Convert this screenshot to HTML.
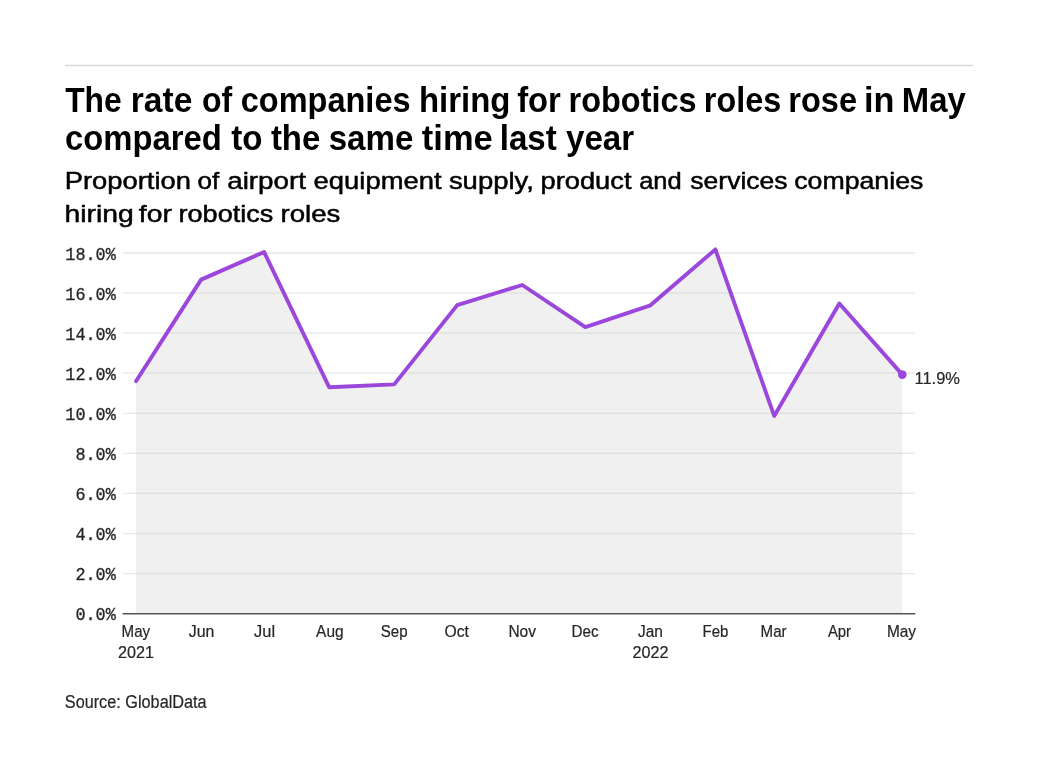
<!DOCTYPE html>
<html lang="en">
<head>
<meta charset="utf-8">
<title>The rate of companies hiring for robotics roles rose in May compared to the same time last year</title>
<style>
html,body{margin:0;padding:0;background:#ffffff;}
body{width:1038px;height:778px;overflow:hidden;}
svg{display:block;will-change:transform;}
.sans{font-family:"Liberation Sans",sans-serif;}
.mono{font-family:"Liberation Mono",monospace;}
.title{font-weight:700;font-size:34.5px;fill:#000000;}
.sub{font-weight:400;font-size:24.5px;fill:#000000;stroke:#000000;stroke-width:0.5px;}
.ytick{font-size:18.4px;fill:#262626;stroke:#262626;stroke-width:0.3px;}
.xtick{font-size:16.3px;fill:#262626;stroke:#262626;stroke-width:0.2px;}
.endlabel{font-size:17px;fill:#262626;stroke:#262626;stroke-width:0.2px;}
.source{font-size:18px;fill:#262626;stroke:#262626;stroke-width:0.2px;}
</style>
</head>
<body>
<svg width="1038" height="778" viewBox="0 0 1038 778">
<rect x="0" y="0" width="1038" height="778" fill="#ffffff"/>
<line x1="65" x2="973.2" y1="65.5" y2="65.5" stroke="#d9d9d9" stroke-width="1.3"/>
<text class="sans title" y="111.8">
<tspan x="65.13" textLength="56.51" lengthAdjust="spacingAndGlyphs">The</tspan>
<tspan x="130.84" textLength="61.45" lengthAdjust="spacingAndGlyphs">rate</tspan>
<tspan x="202.01" textLength="30.31" lengthAdjust="spacingAndGlyphs">of</tspan>
<tspan x="240.70" textLength="169.88" lengthAdjust="spacingAndGlyphs">companies</tspan>
<tspan x="418.89" textLength="91.56" lengthAdjust="spacingAndGlyphs">hiring</tspan>
<tspan x="517.13" textLength="43.74" lengthAdjust="spacingAndGlyphs">for</tspan>
<tspan x="568.51" textLength="128.14" lengthAdjust="spacingAndGlyphs">robotics</tspan>
<tspan x="703.82" textLength="77.32" lengthAdjust="spacingAndGlyphs">roles</tspan>
<tspan x="788.31" textLength="68.70" lengthAdjust="spacingAndGlyphs">rose</tspan>
<tspan x="864.00" textLength="30.42" lengthAdjust="spacingAndGlyphs">in</tspan>
<tspan x="901.78" textLength="63.93" lengthAdjust="spacingAndGlyphs">May</tspan>
</text>
<text class="sans title" y="150.4">
<tspan x="64.98" textLength="156.89" lengthAdjust="spacingAndGlyphs">compared</tspan>
<tspan x="231.18" textLength="31.38" lengthAdjust="spacingAndGlyphs">to</tspan>
<tspan x="270.88" textLength="49.35" lengthAdjust="spacingAndGlyphs">the</tspan>
<tspan x="328.70" textLength="84.63" lengthAdjust="spacingAndGlyphs">same</tspan>
<tspan x="421.87" textLength="70.87" lengthAdjust="spacingAndGlyphs">time</tspan>
<tspan x="499.78" textLength="57.00" lengthAdjust="spacingAndGlyphs">last</tspan>
<tspan x="566.05" textLength="68.13" lengthAdjust="spacingAndGlyphs">year</tspan>
</text>
<text class="sans sub" y="188.9">
<tspan x="64.75" textLength="126.23" lengthAdjust="spacingAndGlyphs">Proportion</tspan>
<tspan x="197.56" textLength="21.69" lengthAdjust="spacingAndGlyphs">of</tspan>
<tspan x="227.21" textLength="78.84" lengthAdjust="spacingAndGlyphs">airport</tspan>
<tspan x="313.60" textLength="127.97" lengthAdjust="spacingAndGlyphs">equipment</tspan>
<tspan x="448.90" textLength="84.93" lengthAdjust="spacingAndGlyphs">supply,</tspan>
<tspan x="540.47" textLength="91.01" lengthAdjust="spacingAndGlyphs">product</tspan>
<tspan x="639.21" textLength="42.51" lengthAdjust="spacingAndGlyphs">and</tspan>
<tspan x="690.33" textLength="97.27" lengthAdjust="spacingAndGlyphs">services</tspan>
<tspan x="794.23" textLength="129.14" lengthAdjust="spacingAndGlyphs">companies</tspan>
</text>
<text class="sans sub" y="222.2">
<tspan x="64.43" textLength="69.30" lengthAdjust="spacingAndGlyphs">hiring</tspan>
<tspan x="138.87" textLength="33.01" lengthAdjust="spacingAndGlyphs">for</tspan>
<tspan x="178.56" textLength="94.80" lengthAdjust="spacingAndGlyphs">robotics</tspan>
<tspan x="280.53" textLength="59.85" lengthAdjust="spacingAndGlyphs">roles</tspan>
</text>
<polygon fill="#f0f0f0" points="136.0,613.7 136.0,381.2 201.1,279.6 264.1,252.0 329.1,387.2 394.2,384.4 457.2,305.1 522.3,285.0 585.3,327.1 650.4,305.3 715.4,249.4 774.2,415.9 839.3,303.5 902.3,374.6 902.3,613.7"/>
<line x1="123" x2="915" y1="573.62" y2="573.62" stroke="#d0d0d0" stroke-opacity="0.53" stroke-width="1.3"/>
<line x1="123" x2="915" y1="533.54" y2="533.54" stroke="#d0d0d0" stroke-opacity="0.53" stroke-width="1.3"/>
<line x1="123" x2="915" y1="493.46" y2="493.46" stroke="#d0d0d0" stroke-opacity="0.53" stroke-width="1.3"/>
<line x1="123" x2="915" y1="453.38" y2="453.38" stroke="#d0d0d0" stroke-opacity="0.53" stroke-width="1.3"/>
<line x1="123" x2="915" y1="413.30" y2="413.30" stroke="#d0d0d0" stroke-opacity="0.53" stroke-width="1.3"/>
<line x1="123" x2="915" y1="373.22" y2="373.22" stroke="#d0d0d0" stroke-opacity="0.53" stroke-width="1.3"/>
<line x1="123" x2="915" y1="333.14" y2="333.14" stroke="#d0d0d0" stroke-opacity="0.53" stroke-width="1.3"/>
<line x1="123" x2="915" y1="293.06" y2="293.06" stroke="#d0d0d0" stroke-opacity="0.53" stroke-width="1.3"/>
<line x1="123" x2="915" y1="252.98" y2="252.98" stroke="#d0d0d0" stroke-opacity="0.53" stroke-width="1.3"/>
<text class="mono ytick" x="75.4" y="619.9" textLength="40.4" lengthAdjust="spacingAndGlyphs">0.0%</text>
<text class="mono ytick" x="75.4" y="580.4" textLength="40.4" lengthAdjust="spacingAndGlyphs">2.0%</text>
<text class="mono ytick" x="75.4" y="540.3" textLength="40.4" lengthAdjust="spacingAndGlyphs">4.0%</text>
<text class="mono ytick" x="75.4" y="500.3" textLength="40.4" lengthAdjust="spacingAndGlyphs">6.0%</text>
<text class="mono ytick" x="75.4" y="460.2" textLength="40.4" lengthAdjust="spacingAndGlyphs">8.0%</text>
<text class="mono ytick" x="65.3" y="420.1" textLength="50.5" lengthAdjust="spacingAndGlyphs">10.0%</text>
<text class="mono ytick" x="65.3" y="380.0" textLength="50.5" lengthAdjust="spacingAndGlyphs">12.0%</text>
<text class="mono ytick" x="65.3" y="339.9" textLength="50.5" lengthAdjust="spacingAndGlyphs">14.0%</text>
<text class="mono ytick" x="65.3" y="299.9" textLength="50.5" lengthAdjust="spacingAndGlyphs">16.0%</text>
<text class="mono ytick" x="65.3" y="259.8" textLength="50.5" lengthAdjust="spacingAndGlyphs">18.0%</text>
<line x1="122.6" x2="915.3" y1="613.78" y2="613.78" stroke="#555555" stroke-width="1.5"/>
<polyline fill="none" stroke="#9b47db" stroke-width="3.9" stroke-linejoin="round" stroke-linecap="round" points="136.0,381.2 201.1,279.6 264.1,252.0 329.1,387.2 394.2,384.4 457.2,305.1 522.3,285.0 585.3,327.1 650.4,305.3 715.4,249.4 774.2,415.9 839.3,303.5 902.3,374.6"/>
<circle cx="902.3" cy="374.6" r="4.3" fill="#9b47db"/>
<text class="sans endlabel" x="914.5" y="384.3" textLength="45.5" lengthAdjust="spacingAndGlyphs">11.9%</text>
<text class="sans xtick" x="121.6" y="637" textLength="28.6" lengthAdjust="spacingAndGlyphs">May</text>
<text class="sans xtick" x="118.0" y="658" textLength="36" lengthAdjust="spacingAndGlyphs">2021</text>
<text class="sans xtick" x="188.8" y="637" textLength="25.6" lengthAdjust="spacingAndGlyphs">Jun</text>
<text class="sans xtick" x="254.1" y="637" textLength="21.0" lengthAdjust="spacingAndGlyphs">Jul</text>
<text class="sans xtick" x="316.1" y="637" textLength="27.5" lengthAdjust="spacingAndGlyphs">Aug</text>
<text class="sans xtick" x="380.8" y="637" textLength="26.8" lengthAdjust="spacingAndGlyphs">Sep</text>
<text class="sans xtick" x="444.6" y="637" textLength="24.4" lengthAdjust="spacingAndGlyphs">Oct</text>
<text class="sans xtick" x="508.4" y="637" textLength="27.6" lengthAdjust="spacingAndGlyphs">Nov</text>
<text class="sans xtick" x="571.6" y="637" textLength="27.1" lengthAdjust="spacingAndGlyphs">Dec</text>
<text class="sans xtick" x="638.0" y="637" textLength="24.8" lengthAdjust="spacingAndGlyphs">Jan</text>
<text class="sans xtick" x="632.4" y="658" textLength="36" lengthAdjust="spacingAndGlyphs">2022</text>
<text class="sans xtick" x="702.5" y="637" textLength="25.8" lengthAdjust="spacingAndGlyphs">Feb</text>
<text class="sans xtick" x="760.6" y="637" textLength="26.0" lengthAdjust="spacingAndGlyphs">Mar</text>
<text class="sans xtick" x="827.9" y="637" textLength="23.1" lengthAdjust="spacingAndGlyphs">Apr</text>
<text class="sans xtick" x="886.9" y="637" textLength="29.1" lengthAdjust="spacingAndGlyphs">May</text>
<text class="sans source" x="64.8" y="708.4" textLength="141.8" lengthAdjust="spacingAndGlyphs">Source: GlobalData</text>
</svg>
</body>
</html>
